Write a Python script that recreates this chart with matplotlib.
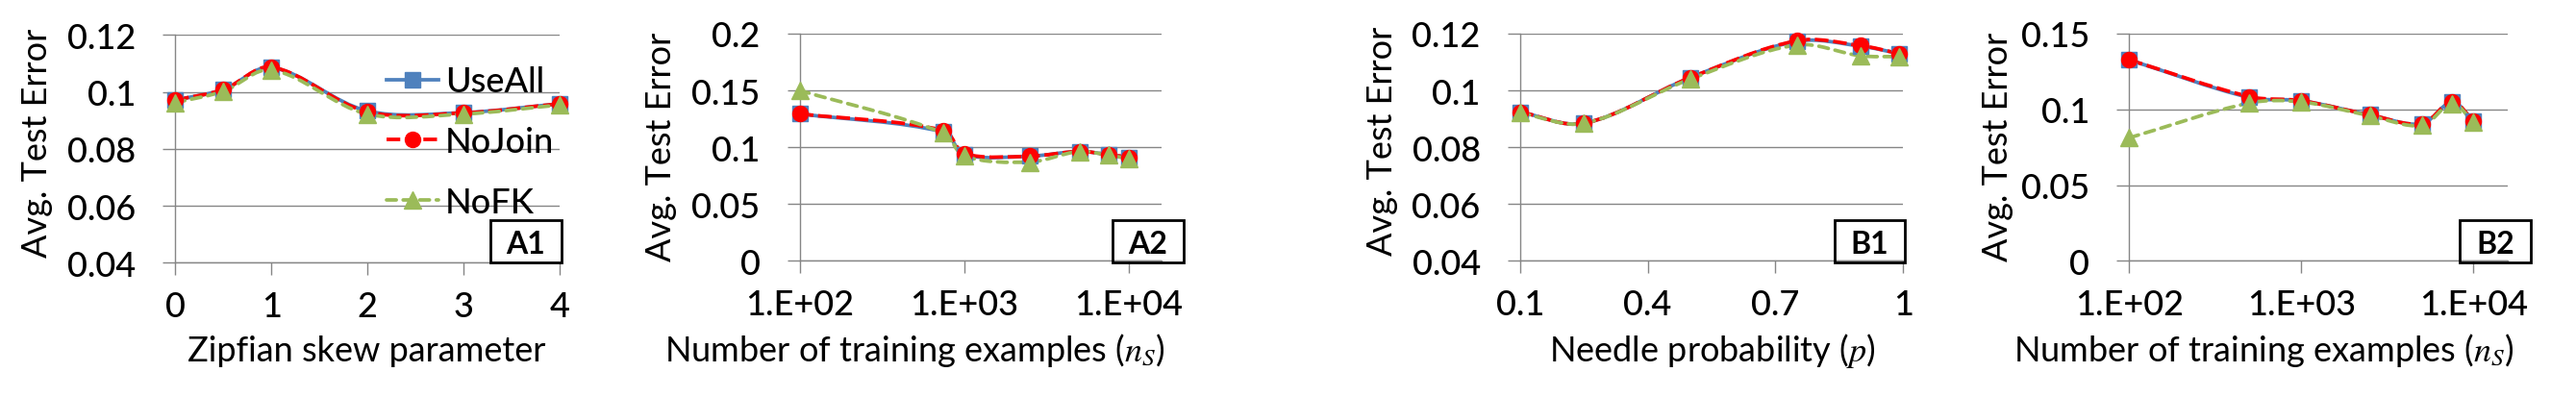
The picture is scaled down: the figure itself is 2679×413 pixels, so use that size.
import numpy as np
import matplotlib
matplotlib.use("Agg")
import matplotlib.pyplot as plt
from matplotlib.path import Path
from matplotlib.patches import PathPatch, Rectangle
from matplotlib.ticker import FixedLocator, FuncFormatter, NullLocator
from matplotlib.lines import Line2D

# ---------------- data ----------------
series_names = ["UseAll", "NoJoin", "NoFK"]

zipf_x = [0, 0.5, 1, 2, 3, 4]
a1_useall = [0.0971, 0.1008, 0.1086, 0.0933, 0.0927, 0.0958]
a1_nojoin = [0.0971, 0.1008, 0.1087, 0.0930, 0.0926, 0.0958]
a1_nofk = [0.0962, 0.1002, 0.1077, 0.0922, 0.0922, 0.0954]

ns_a = [100, 750, 1000, 2500, 5000, 7500, 10000]
a2_useall = [0.1294, 0.1133, 0.0935, 0.0921, 0.0963, 0.0935, 0.0912]
a2_nojoin = [0.1294, 0.1147, 0.0944, 0.0921, 0.0963, 0.0935, 0.0912]
a2_nofk = [0.1500, 0.1124, 0.0921, 0.0870, 0.0963, 0.0930, 0.0898]

needle_p = [0.1, 0.25, 0.5, 0.75, 0.9, 0.99]
b1_useall = [0.0924, 0.0884, 0.1045, 0.1173, 0.1156, 0.1130]
b1_nojoin = [0.0924, 0.0884, 0.1045, 0.1175, 0.1158, 0.1130]
b1_nofk = [0.0921, 0.0884, 0.1040, 0.1160, 0.1122, 0.1119]

ns_b = [100, 500, 1000, 2500, 5000, 7500, 10000]
b2_useall = [0.1327, 0.1078, 0.1057, 0.0964, 0.0905, 0.1049, 0.0922]
b2_nojoin = [0.1327, 0.1084, 0.1057, 0.0964, 0.0905, 0.1049, 0.0922]
b2_nofk = [0.0812, 0.1042, 0.1049, 0.0958, 0.0894, 0.1038, 0.0916]

a1_yticks = [0.04, 0.06, 0.08, 0.1, 0.12]
a2_yticks = [0, 0.05, 0.1, 0.15, 0.2]
b1_yticks = [0.04, 0.06, 0.08, 0.1, 0.12]
b2_yticks = [0, 0.05, 0.1, 0.15]
a1_xticks = [0, 1, 2, 3, 4]
b1_xticks = [0.1, 0.4, 0.7, 1.0]
log_xticks = [1e2, 1e3, 1e4]

panel_tags = ["A1", "A2", "B1", "B2"]
ylabel_text = "Avg. Test Error"
xlabels = ["Zipfian skew parameter",
           "Number of training examples ($n_S$)",
           "Needle probability ($p$)",
           "Number of training examples ($n_S$)"]

# ---------------- style ----------------
plt.rcParams["font.family"] = ["Lato", "DejaVu Sans"]
plt.rcParams["font.weight"] = "medium"
plt.rcParams["mathtext.fontset"] = "stix"

W, H, DPI = 2679, 414, 100
FS = 26
GRAY = "#868686"
BLUE, RED, GREEN = "#4F81BD", "#FF0000", "#9BBB59"
styles = {
    "UseAll": dict(color=BLUE, marker="s", ms=11.5, ls="-", lw=2.7, cap="butt"),
    "NoJoin": dict(color=RED, marker="o", ms=11.5, ls=(0, (3.8, 1.3)), lw=2.7, cap="butt"),
    "NoFK": dict(color=GREEN, marker="^", ms=12.5, ls=(0, (2.7, 1.9)), lw=2.7, cap="round"),
}

fig = plt.figure(figsize=(W / DPI, H / DPI), dpi=DPI)


def add_axes_px(l, r, t, b):
    return fig.add_axes([l / W, 1 - b / H, (r - l) / W, (b - t) / H])


def smooth_patch(ax, xs, ys, st, z):
    pts = ax.transData.transform(np.column_stack([xs, ys]))
    n = len(pts)
    verts = [pts[0]]
    codes = [Path.MOVETO]
    for i in range(n - 1):
        p0 = pts[i - 1] if i > 0 else pts[i]
        p1, p2 = pts[i], pts[i + 1]
        p3 = pts[i + 2] if i + 2 < n else pts[i + 1]
        d01 = np.hypot(*(p1 - p0))
        d12 = np.hypot(*(p2 - p1))
        d23 = np.hypot(*(p3 - p2))
        f1 = d12 / (d01 + d12) / 3 if (d01 + d12) > 0 else 0
        f2 = d12 / (d12 + d23) / 3 if (d12 + d23) > 0 else 0
        c1 = p1 + (p2 - p0) * f1
        c2 = p2 - (p3 - p1) * f2
        verts += [c1, c2, p2]
        codes += [Path.CURVE4] * 3
    verts = ax.transData.inverted().transform(np.array(verts))
    patch = PathPatch(Path(verts, codes), fill=False, edgecolor=st["color"],
                      lw=st["lw"], linestyle=st["ls"], capstyle=st["cap"],
                      joinstyle="round", transform=ax.transData, zorder=z)
    ax.add_patch(patch)


def gen_fmt(v, pos):
    return f"{v:g}"


def log_fmt(v, pos):
    return f"1.E+{int(round(np.log10(v))):02d}"


panels = [
    dict(box=(182.3, 581.7, 37.3, 274.3), x=zipf_x, ys=[a1_useall, a1_nojoin, a1_nofk],
         xlim=(0, 4), ylim=(0.04, 0.12), yt=a1_yticks, xt=a1_xticks, log=False,
         ylab_x=39, ylab_y=149, xlab_x=381, tagbox=(510, 584, 230, 273.5)),
    dict(box=(831.7, 1208.3, 36, 272.3), x=ns_a, ys=[a2_useall, a2_nojoin, a2_nofk],
         xlim=(1e2, 10 ** 4.2), ylim=(0, 0.2), yt=a2_yticks, xt=log_xticks, log=True,
         ylab_x=688, ylab_y=153, xlab_x=951, tagbox=(1157, 1230.7, 230, 274)),
    dict(box=(1580.7, 1979.3, 36, 272.3), x=needle_p, ys=[b1_useall, b1_nojoin, b1_nofk],
         xlim=(0.1, 1.0), ylim=(0.04, 0.12), yt=b1_yticks, xt=b1_xticks, log=False,
         ylab_x=1437.7, ylab_y=147, xlab_x=1781, tagbox=(1907.5, 1981, 230, 274)),
    dict(box=(2214.3, 2608.3, 36, 272.3), x=ns_b, ys=[b2_useall, b2_nojoin, b2_nofk],
         xlim=(1e2, 10 ** 4.2), ylim=(0, 0.15), yt=b2_yticks, xt=log_xticks, log=True,
         ylab_x=2077, ylab_y=153, xlab_x=2354.5, tagbox=(2558.2, 2631.6, 230, 274)),
]

for k, P in enumerate(panels):
    l, r, t, b = P["box"]
    ax = add_axes_px(l, r, t, b)
    if P["log"]:
        ax.set_xscale("log")
    ax.set_xlim(*P["xlim"])
    ax.set_ylim(*P["ylim"])
    ax.xaxis.set_major_locator(FixedLocator(P["xt"]))
    ax.xaxis.set_minor_locator(NullLocator())
    ax.xaxis.set_major_formatter(FuncFormatter(log_fmt if P["log"] else gen_fmt))
    ax.yaxis.set_major_locator(FixedLocator(P["yt"]))
    ax.yaxis.set_major_formatter(FuncFormatter(gen_fmt))
    for s in ["top", "right"]:
        ax.spines[s].set_visible(False)
    for s in ["left", "bottom"]:
        ax.spines[s].set_color(GRAY)
        ax.spines[s].set_linewidth(1.0)
    ax.yaxis.grid(True, color=GRAY, lw=1.0)
    ax.set_axisbelow(True)
    ax.tick_params(axis="both", direction="out", length=9.5, width=1.0, color=GRAY,
                   labelsize=FS, labelcolor="black")
    ax.tick_params(axis="y", pad=20)
    ax.tick_params(axis="x", pad=11)

    for j, (name, yv) in enumerate(zip(series_names, P["ys"])):
        st = styles[name]
        smooth_patch(ax, P["x"], yv, st, 2 + j * 0.1)
        ax.plot(P["x"], yv, linestyle="none", marker=st["marker"], ms=st["ms"],
                color=st["color"], mec=st["color"], zorder=3 + j * 0.1, clip_on=False)

    # labels
    ax.set_ylabel(ylabel_text, fontsize=FS)
    ax.yaxis.label.set_va("center")
    ax.yaxis.set_label_coords((P["ylab_x"] - l) / (r - l), (b - P["ylab_y"]) / (b - t))
    ax.set_xlabel(xlabels[k], fontsize=FS)
    ax.xaxis.label.set_va("baseline")
    ax.xaxis.set_label_coords((P["xlab_x"] - l) / (r - l), (b - 376) / (b - t))

    # tag box
    x0, x1, y0, y1 = P["tagbox"]
    fig.add_artist(Rectangle((x0 / W, 1 - y1 / H), (x1 - x0) / W, (y1 - y0) / H,
                             transform=fig.transFigure, fill=False, lw=2.0,
                             edgecolor="black", zorder=10))
    fig.text((x0 + x1) / 2 / W, 1 - (y0 + y1) / 2 / H, panel_tags[k], fontsize=23,
             fontweight="bold", ha="center", va="center_baseline", zorder=11)

    if k == 0:
        handles = [Line2D([], [], color=styles[n]["color"], lw=styles[n]["lw"],
                          linestyle=styles[n]["ls"], marker=styles[n]["marker"],
                          ms=styles[n]["ms"], dash_capstyle=styles[n]["cap"])
                   for n in series_names]
        ax.legend(handles, series_names, loc="center left",
                  bbox_to_anchor=((401.7 - l) / (r - l), (b - 148.5) / (b - t)),
                  frameon=False, fontsize=FS, handlelength=1.5, handletextpad=0.2,
                  labelspacing=0.82, borderpad=0, borderaxespad=0, numpoints=1)

fig.savefig("out.png", dpi=DPI)
